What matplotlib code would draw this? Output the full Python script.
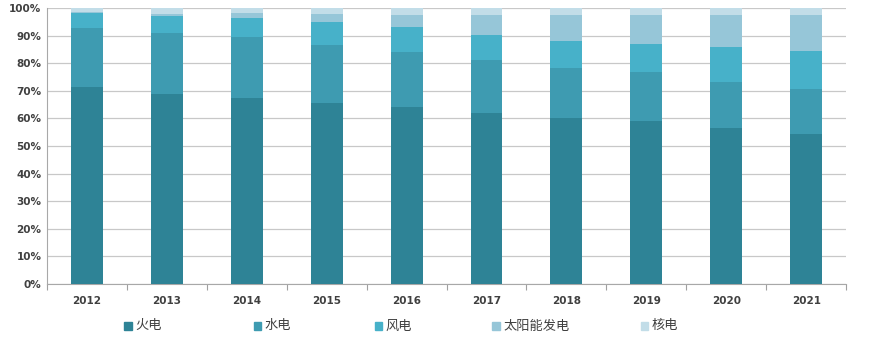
import matplotlib.pyplot as plt
import numpy as np
from matplotlib.patches import Rectangle

plt.rcParams['font.family'] = ['Noto Sans CJK SC', 'DejaVu Sans']

years = ['2012', '2013', '2014', '2015', '2016', '2017', '2018', '2019', '2020', '2021']
series = ['火电', '水电', '风电', '太阳能发电', '核电']
thermal = [71.3, 68.8, 67.3, 65.7, 64.0, 62.0, 60.0, 59.2, 56.4, 54.3]
hydro = [21.4, 22.3, 22.1, 20.9, 20.1, 19.2, 18.4, 17.6, 16.9, 16.5]
wind = [5.6, 6.1, 7.1, 8.4, 9.0, 9.1, 9.8, 10.3, 12.7, 13.7]
solar = [0.1, 0.6, 1.8, 2.9, 4.5, 7.3, 9.1, 10.2, 11.3, 12.8]
nuclear = [1.6, 2.2, 1.7, 2.1, 2.4, 2.4, 2.7, 2.7, 2.7, 2.7]
colors = ['#2e8396', '#3e9bb1', '#47b1c9', '#96c6d8', '#c2dde8']

fig = plt.figure(figsize=(8.83, 3.42), dpi=100)
ax = fig.add_axes([0.0532, 0.1696, 0.905, 0.807])

x = np.arange(len(years))
bottom = np.zeros(len(years))
for vals, c in zip([thermal, hydro, wind, solar, nuclear], colors):
    ax.bar(x, vals, 0.4, bottom=bottom, color=c, zorder=3)
    bottom += np.array(vals)

ax.set_xlim(-0.5, len(years) - 0.5)
ax.set_ylim(0, 100)
ax.set_yticks(np.arange(0, 101, 10))
ax.set_yticklabels([f'{v}%' for v in range(0, 101, 10)])
ax.set_xticks(x)
ax.set_xticklabels(years)
ax.set_xticks(np.arange(-0.5, len(years), 1), minor=True)
ax.tick_params(axis='x', which='major', length=0, pad=9, labelsize=7.5, labelcolor='#404040')
ax.tick_params(axis='x', which='minor', length=4, color='#a0a0a0', width=0.8)
ax.tick_params(axis='y', length=0, pad=4, labelsize=7.5, labelcolor='#404040')
for lbl in ax.get_xticklabels() + ax.get_yticklabels():
    lbl.set_fontweight('bold')
    lbl.set_family(['DejaVu Sans'])

ax.grid(axis='y', color='#c8c8c8', linewidth=0.9, zorder=0)
for s in ['top', 'right']:
    ax.spines[s].set_visible(False)
ax.spines['left'].set_color('#a8a8a8')
ax.spines['bottom'].set_color('#a8a8a8')

# legend along the bottom
leg_x = [0.145, 0.292, 0.429, 0.562, 0.73]
for name, c, lx in zip(series, colors, leg_x):
    fig.patches.append(Rectangle((lx - 0.0045, 0.035), 0.0085, 0.024,
                                 transform=fig.transFigure, color=c))
    fig.text(lx + 0.008, 0.047, name, fontsize=9.5, color='#404040', va='center')

fig.savefig('out.png', dpi=100)
